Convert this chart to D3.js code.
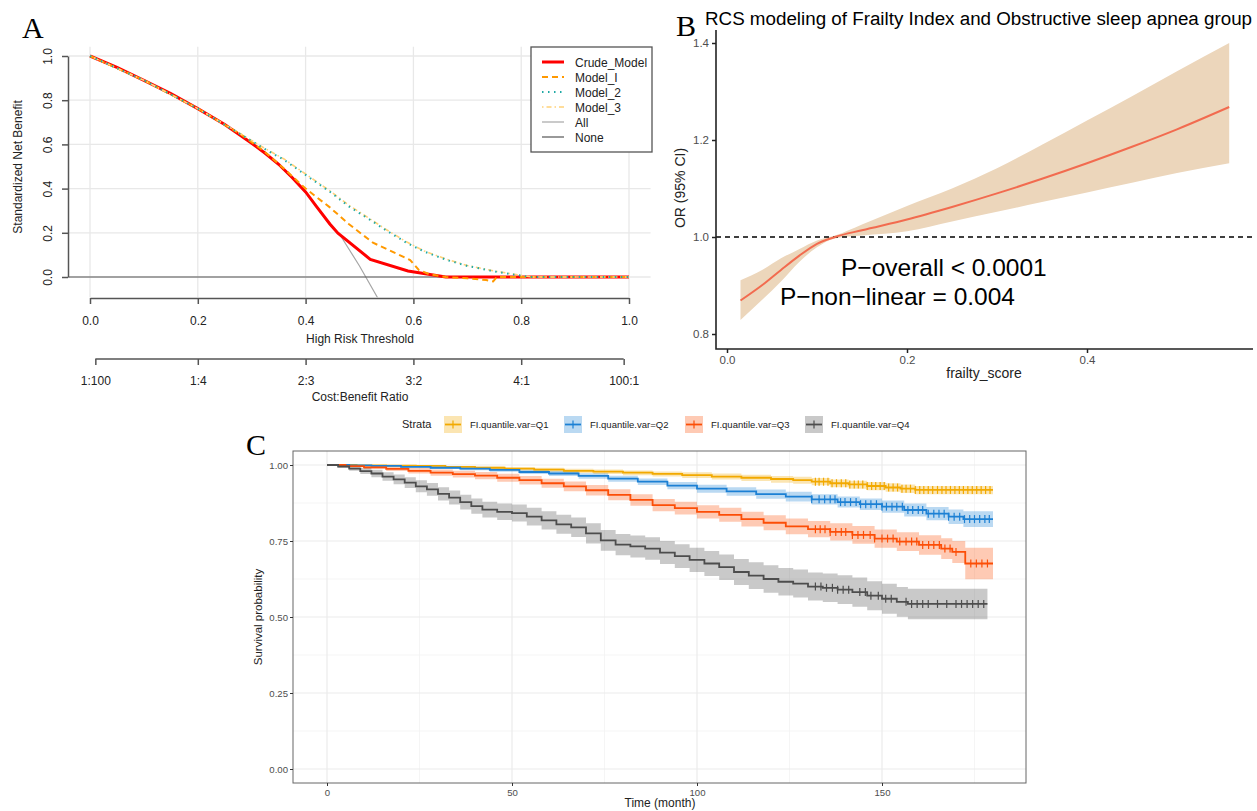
<!DOCTYPE html>
<html>
<head>
<meta charset="utf-8">
<script src="https://cdn.jsdelivr.net/npm/d3@7"></script>
<style>
body { margin: 0; background: #fff; }
svg { display: block; font-family: "Liberation Sans", Arial, sans-serif; }
</style>
</head>
<body>
<svg id="fig" width="1257" height="811"></svg>
<script>
// ---------------- data: panel A (decision curves) ----------------
const thresholdTicks = [0, 0.2, 0.4, 0.6, 0.8, 1.0];
const nbTicks = [0, 0.2, 0.4, 0.6, 0.8, 1.0];
const costBenefitThr = [0.0099, 0.2, 0.4, 0.6, 0.8, 0.9901];
const costBenefitLabels = ["1:100", "1:4", "2:3", "3:2", "4:1", "100:1"];

const crudeThr = [0, 0.05, 0.1, 0.15, 0.2, 0.25, 0.3, 0.325, 0.35, 0.375, 0.4, 0.42, 0.445, 0.46, 0.52, 0.59, 0.66, 1.0];
const crudeNB  = [1, 0.948, 0.89, 0.83, 0.762, 0.69, 0.605, 0.56, 0.51, 0.45, 0.385, 0.32, 0.24, 0.198, 0.08, 0.027, 0, 0];
const model1Thr = [0, 0.1, 0.2, 0.28, 0.32, 0.36, 0.4, 0.445, 0.48, 0.525, 0.594, 0.61, 0.63, 0.66, 0.7, 0.735, 0.748, 0.755, 1.0];
const model1NB  = [1, 0.89, 0.762, 0.645, 0.575, 0.49, 0.40, 0.315, 0.24, 0.155, 0.077, 0.032, 0.012, 0, -0.006, -0.014, -0.02, 0, 0];
const model2Thr = [0, 0.1, 0.2, 0.28, 0.32, 0.36, 0.4, 0.445, 0.48, 0.52, 0.55, 0.588, 0.62, 0.662, 0.7, 0.755, 0.816, 1.0];
const model2NB  = [1, 0.89, 0.762, 0.645, 0.585, 0.53, 0.462, 0.386, 0.32, 0.258, 0.21, 0.154, 0.115, 0.077, 0.05, 0.023, 0, 0];
const model3Thr = [0, 0.1, 0.2, 0.28, 0.32, 0.36, 0.4, 0.445, 0.48, 0.52, 0.55, 0.588, 0.62, 0.662, 0.7, 0.755, 0.82, 1.0];
const model3NB  = [1, 0.89, 0.762, 0.647, 0.588, 0.534, 0.466, 0.39, 0.325, 0.262, 0.214, 0.158, 0.118, 0.08, 0.052, 0.025, 0, 0];
const allThr = [0, 0.05, 0.1, 0.15, 0.2, 0.25, 0.3, 0.325, 0.35, 0.375, 0.4, 0.42, 0.445, 0.464, 0.5, 0.535];
const allNB  = [1, 0.948, 0.89, 0.83, 0.762, 0.69, 0.603, 0.557, 0.507, 0.447, 0.382, 0.317, 0.236, 0.19, 0.05, -0.1];
const noneThr = [-0.04, 1.0];
const noneNB  = [0, 0];

// ---------------- data: panel B (RCS) ----------------
const rcsX     = [0.015, 0.04, 0.06, 0.08, 0.10, 0.12, 0.15, 0.2, 0.25, 0.3, 0.35, 0.4, 0.45, 0.5, 0.558];
const rcsOR    = [0.869, 0.902, 0.932, 0.961, 0.986, 1.0, 1.014, 1.036, 1.062, 1.09, 1.12, 1.152, 1.186, 1.222, 1.268];
const rcsLower = [0.829, 0.872, 0.908, 0.948, 0.979, 0.997, 1.003, 1.012, 1.032, 1.052, 1.072, 1.092, 1.112, 1.132, 1.152];
const rcsUpper = [0.911, 0.933, 0.956, 0.975, 0.993, 1.003, 1.026, 1.064, 1.1, 1.142, 1.19, 1.24, 1.29, 1.342, 1.40];
const rcsXTicks = [0, 0.2, 0.4];
const rcsYTicks = [0.8, 1.0, 1.2, 1.4];

// ---------------- data: panel C (Kaplan-Meier) ----------------
const strataNames = ["FI.quantile.var=Q1", "FI.quantile.var=Q2", "FI.quantile.var=Q3", "FI.quantile.var=Q4"];
const strataColors = ["#F2A900", "#1C80D4", "#FC4E07", "#4D4D4D"];
const strataEnd = [180, 180, 180, 178.5];

const q1Time = [0, 8, 16, 24, 32, 40, 48, 56, 64, 72, 80, 88, 96, 104, 112, 120, 126, 131, 136, 141, 146, 151, 155, 159];
const q1Surv = [1, 0.999, 0.998, 0.997, 0.994, 0.991, 0.988, 0.985, 0.981, 0.978, 0.975, 0.971, 0.967, 0.962, 0.958, 0.954, 0.950, 0.945, 0.940, 0.936, 0.931, 0.926, 0.922, 0.918];
const q1Low  = [1, 0.998, 0.996, 0.994, 0.990, 0.986, 0.982, 0.978, 0.974, 0.970, 0.966, 0.962, 0.957, 0.952, 0.947, 0.942, 0.938, 0.933, 0.927, 0.922, 0.917, 0.912, 0.908, 0.904];
const q1High = [1, 1, 1, 0.999, 0.997, 0.995, 0.993, 0.991, 0.988, 0.985, 0.982, 0.979, 0.976, 0.972, 0.968, 0.964, 0.961, 0.957, 0.952, 0.948, 0.944, 0.940, 0.936, 0.931];

const q2Time = [0, 6, 12, 20, 28, 36, 44, 52, 60, 68, 76, 84, 92, 100, 108, 116, 124, 131, 138, 144, 150, 156, 162, 168, 172];
const q2Surv = [1, 0.999, 0.997, 0.994, 0.991, 0.988, 0.984, 0.977, 0.972, 0.964, 0.955, 0.945, 0.932, 0.922, 0.913, 0.904, 0.896, 0.887, 0.878, 0.871, 0.863, 0.852, 0.840, 0.830, 0.822];
const q2Low  = [1, 0.998, 0.995, 0.991, 0.987, 0.983, 0.978, 0.970, 0.964, 0.955, 0.945, 0.934, 0.920, 0.909, 0.899, 0.889, 0.880, 0.870, 0.860, 0.852, 0.843, 0.831, 0.818, 0.806, 0.796];
const q2High = [1, 1, 0.999, 0.997, 0.995, 0.993, 0.990, 0.984, 0.980, 0.973, 0.965, 0.956, 0.944, 0.935, 0.927, 0.919, 0.912, 0.904, 0.896, 0.890, 0.883, 0.873, 0.862, 0.854, 0.848];

const q3Time = [0, 5, 10, 16, 22, 28, 34, 40, 46, 52, 58, 64, 70, 76, 82, 88, 94, 100, 106, 112, 118, 124, 130, 136, 142, 148, 154, 160, 166, 169, 172.5];
const q3Surv = [1, 0.996, 0.992, 0.987, 0.981, 0.975, 0.970, 0.965, 0.958, 0.950, 0.940, 0.930, 0.917, 0.902, 0.885, 0.868, 0.858, 0.846, 0.836, 0.822, 0.810, 0.798, 0.789, 0.780, 0.770, 0.758, 0.748, 0.737, 0.725, 0.714, 0.676];
const q3Low  = [1, 0.993, 0.987, 0.980, 0.972, 0.965, 0.959, 0.953, 0.945, 0.936, 0.925, 0.914, 0.900, 0.884, 0.866, 0.848, 0.837, 0.824, 0.813, 0.798, 0.785, 0.772, 0.762, 0.752, 0.741, 0.728, 0.717, 0.705, 0.691, 0.678, 0.624];
const q3High = [1, 0.999, 0.997, 0.994, 0.990, 0.985, 0.981, 0.977, 0.971, 0.964, 0.955, 0.946, 0.934, 0.920, 0.904, 0.888, 0.879, 0.868, 0.859, 0.846, 0.835, 0.824, 0.816, 0.808, 0.799, 0.788, 0.779, 0.769, 0.759, 0.750, 0.728];

const q4Time = [0, 3, 6, 9, 12, 15, 18, 21, 24, 27, 30, 33, 36, 39, 42, 46, 50, 54, 58, 62, 66, 70, 74, 78, 82, 86, 90, 94, 98, 102, 106, 110, 114, 118, 122, 126, 130, 134, 138, 142, 146, 150, 154, 157];
const q4Surv = [1, 0.995, 0.988, 0.98, 0.972, 0.962, 0.953, 0.942, 0.93, 0.92, 0.905, 0.893, 0.878, 0.865, 0.853, 0.846, 0.842, 0.83, 0.818, 0.805, 0.795, 0.775, 0.752, 0.738, 0.732, 0.725, 0.712, 0.7, 0.688, 0.676, 0.664, 0.648, 0.636, 0.625, 0.616, 0.61, 0.6, 0.596, 0.59, 0.582, 0.57, 0.56, 0.55, 0.543];
const q4Low  = [1, 0.991, 0.981, 0.97, 0.96, 0.948, 0.937, 0.924, 0.91, 0.899, 0.883, 0.87, 0.854, 0.84, 0.827, 0.819, 0.814, 0.801, 0.788, 0.774, 0.763, 0.742, 0.718, 0.703, 0.696, 0.688, 0.674, 0.661, 0.648, 0.635, 0.622, 0.605, 0.592, 0.58, 0.571, 0.564, 0.554, 0.549, 0.543, 0.534, 0.522, 0.511, 0.501, 0.493];
const q4High = [1, 0.999, 0.995, 0.99, 0.984, 0.976, 0.969, 0.96, 0.95, 0.941, 0.927, 0.916, 0.902, 0.89, 0.879, 0.873, 0.87, 0.859, 0.848, 0.836, 0.827, 0.808, 0.786, 0.773, 0.768, 0.762, 0.75, 0.739, 0.728, 0.717, 0.706, 0.691, 0.68, 0.67, 0.661, 0.656, 0.646, 0.643, 0.637, 0.63, 0.618, 0.609, 0.599, 0.593];

const q1Censor = [132, 133, 134.2, 135.4, 136.5, 137.7, 139, 140.2, 141.3, 142.5, 143.6, 144.8, 146, 147.2, 148.3, 149.5, 150.6, 151.8, 153, 154.2, 155.4, 156.5, 157.7, 159, 160.2, 161.3, 162.5, 163.7, 165, 166.2, 167.3, 168.5, 169.7, 170.9, 172, 173.2, 174.4, 175.6, 176.8, 178, 179.2];
const q2Censor = [131, 133, 134.5, 136, 137.3, 138.8, 140, 141.5, 143, 144.2, 145.6, 147, 148.5, 150, 151.2, 152.7, 154, 155.5, 157, 158.3, 159.8, 161, 162.5, 164, 165.4, 166.8, 168, 169.5, 171, 172.3, 173.7, 175, 176.4, 177.8, 179];
const q3Censor = [132, 133.3, 134.6, 136, 137.5, 139, 140.2, 142, 143.5, 145, 146.8, 148, 150, 151.5, 153, 154.8, 156.5, 158, 159.4, 161, 162.6, 164, 165.5, 167, 168.4, 170, 174, 175.5, 177, 178.5];
const q4Censor = [132, 133.5, 135, 136.6, 138, 139.5, 141, 144, 145.5, 147, 149, 151, 152.5, 156.5, 158, 159.5, 161, 162.5, 165, 167.5, 170, 171.5, 173, 174.5, 176, 177.5];

const kmXTicks = [0, 50, 100, 150];
const kmXMinor = [25, 75, 125, 175];
const kmYTicks = [0, 0.25, 0.5, 0.75, 1];
const kmYMinor = [0.125, 0.375, 0.625, 0.875];

const svg = d3.select("#fig");
const defs = svg.append("defs");
const sans = "'Liberation Sans', Arial, sans-serif";
const serif = "'Liberation Serif', 'DejaVu Serif', serif";

// ======================= Panel A =======================
const xA = d3.scaleLinear().domain([0, 1]).range([90, 629]);
const yA = d3.scaleLinear().domain([0, 1]).range([277, 56]);
const aLeft = xA(-0.04), aRight = xA(1.04), aTop = yA(1.042), aBottom = yA(-0.092);
const gA = svg.append("g");

defs.append("clipPath").attr("id", "clipA").append("rect")
    .attr("x", aLeft).attr("y", aTop)
    .attr("width", aRight - aLeft).attr("height", aBottom - aTop);

gA.selectAll(".vgrid").data(thresholdTicks).enter().append("line")
    .attr("x1", d => xA(d)).attr("x2", d => xA(d))
    .attr("y1", aTop).attr("y2", aBottom)
    .attr("stroke", "#e8e8e8").attr("stroke-width", 1.3);
gA.selectAll(".hgrid").data(nbTicks).enter().append("line")
    .attr("x1", aLeft).attr("x2", aRight)
    .attr("y1", d => yA(d)).attr("y2", d => yA(d))
    .attr("stroke", "#e8e8e8").attr("stroke-width", 1.3);

const lineA = d3.line().x(d => xA(d[0])).y(d => yA(d[1]));
const dcaSeries = [
    { name: "All",         thr: allThr,    nb: allNB,    color: "#a6a6a6", width: 1.2, dash: null },
    { name: "None",        thr: noneThr,   nb: noneNB,   color: "#555555", width: 1.2, dash: null },
    { name: "Crude_Model", thr: crudeThr,  nb: crudeNB,  color: "#ff0000", width: 3,   dash: null },
    { name: "Model_I",     thr: model1Thr, nb: model1NB, color: "#ff9900", width: 2,   dash: "6,4" },
    { name: "Model_3",     thr: model3Thr, nb: model3NB, color: "#ffd27a", width: 1.6, dash: "1.5,3,5,3" },
    { name: "Model_2",     thr: model2Thr, nb: model2NB, color: "#1fa9a5", width: 2,   dash: "1.5,4.5" }
];
gA.append("g").attr("clip-path", "url(#clipA)")
    .selectAll("path").data(dcaSeries).enter().append("path")
    .attr("d", d => lineA(d3.zip(d.thr, d.nb)))
    .attr("fill", "none")
    .attr("stroke", d => d.color)
    .attr("stroke-width", d => d.width)
    .attr("stroke-dasharray", d => d.dash);

// axes
function styleAxis(g, color, size, textColor) {
    g.attr("font-family", sans).attr("font-size", size);
    g.selectAll(".domain").attr("stroke", color).attr("stroke-width", 1.5);
    g.selectAll(".tick line").attr("stroke", color).attr("stroke-width", 1.5);
    g.selectAll(".tick text").attr("fill", textColor);
}
const axA1 = gA.append("g").attr("transform", "translate(0,298)")
    .call(d3.axisBottom(xA).tickValues(thresholdTicks).tickFormat(d3.format(".1f"))
        .tickSize(6).tickSizeOuter(0).tickPadding(12));
styleAxis(axA1, "#555", 12, "#222");

const axA2 = gA.append("g").attr("transform", "translate(0,359)")
    .call(d3.axisBottom(xA).tickValues(costBenefitThr).tickFormat((d, i) => costBenefitLabels[i])
        .tickSize(6).tickSizeOuter(0).tickPadding(11));
axA2.select(".domain").remove();
axA2.append("line")
    .attr("x1", xA(costBenefitThr[0])).attr("x2", xA(costBenefitThr[costBenefitThr.length - 1]))
    .attr("stroke", "#555").attr("stroke-width", 1.5);
styleAxis(axA2, "#555", 12, "#222");

const axAy = gA.append("g").attr("transform", "translate(68,0)")
    .call(d3.axisLeft(yA).tickValues(nbTicks).tickFormat(d3.format(".1f")).tickSize(6).tickSizeOuter(0));
styleAxis(axAy, "#555", 12, "#222");
axAy.selectAll(".tick text")
    .attr("transform", "rotate(-90)")
    .attr("x", 0).attr("y", -16).attr("dy", 0)
    .attr("text-anchor", "middle");

gA.append("text").attr("x", 360).attr("y", 343).attr("text-anchor", "middle")
    .attr("font-size", 12).attr("fill", "#222").text("High Risk Threshold");
gA.append("text").attr("x", 360).attr("y", 401).attr("text-anchor", "middle")
    .attr("font-size", 12).attr("fill", "#222").text("Cost:Benefit Ratio");
gA.append("text").attr("transform", "translate(22,167) rotate(-90)").attr("text-anchor", "middle")
    .attr("font-size", 12).attr("fill", "#222").text("Standardized Net Benefit");

// legend
const legA = gA.append("g").attr("transform", "translate(531,47)");
legA.append("rect").attr("width", 121).attr("height", 105)
    .attr("fill", "#fff").attr("stroke", "#555").attr("stroke-width", 1.3);
const legOrder = ["Crude_Model", "Model_I", "Model_2", "Model_3", "All", "None"];
legOrder.forEach((name, i) => {
    const s = dcaSeries.find(d => d.name === name);
    const yy = 15 + i * 15;
    legA.append("line").attr("x1", 11).attr("x2", 33).attr("y1", yy).attr("y2", yy)
        .attr("stroke", s.color).attr("stroke-width", s.width).attr("stroke-dasharray", s.dash);
    legA.append("text").attr("x", 44).attr("y", yy + 4.5).attr("font-size", 12).attr("fill", "#222").text(name);
});

svg.append("text").attr("x", 22).attr("y", 38).attr("font-family", serif).attr("font-size", 30).text("A");

// ======================= Panel B =======================
const xB = d3.scaleLinear().domain([0, 0.4]).range([727, 1087]);
const yB = d3.scaleLinear().domain([0.8, 1.4]).range([334, 43]);
const gB = svg.append("g");
const bLeft = 716, bRight = 1253, bTop = 30, bBottom = 349;

const rcsRows = rcsX.map((x, i) => ({ x: x, or: rcsOR[i], lo: rcsLower[i], hi: rcsUpper[i] }));
gB.append("path").datum(rcsRows)
    .attr("d", d3.area().curve(d3.curveMonotoneX).x(d => xB(d.x)).y0(d => yB(d.lo)).y1(d => yB(d.hi)))
    .attr("fill", "#ecd6bb");
gB.append("line").attr("x1", bLeft).attr("x2", bRight).attr("y1", yB(1)).attr("y2", yB(1))
    .attr("stroke", "#000").attr("stroke-width", 1.5).attr("stroke-dasharray", "5,4");
gB.append("path").datum(rcsRows)
    .attr("d", d3.line().curve(d3.curveMonotoneX).x(d => xB(d.x)).y(d => yB(d.or)))
    .attr("fill", "none").attr("stroke", "#f26b4f").attr("stroke-width", 2);

const axBy = gB.append("g").attr("transform", `translate(${bLeft},0)`)
    .call(d3.axisLeft(yB).tickValues(rcsYTicks).tickFormat(d3.format(".1f")).tickSize(4).tickPadding(3));
axBy.select(".domain").remove();
styleAxis(axBy, "#222", 11.5, "#4d4d4d");
const axBx = gB.append("g").attr("transform", `translate(0,${bBottom})`)
    .call(d3.axisBottom(xB).tickValues(rcsXTicks).tickFormat(d3.format(".1f")).tickSize(4).tickPadding(3));
axBx.select(".domain").remove();
styleAxis(axBx, "#222", 11.5, "#4d4d4d");
gB.append("path").attr("d", `M${bLeft},${bTop}V${bBottom}H${bRight}`)
    .attr("fill", "none").attr("stroke", "#222").attr("stroke-width", 1.6);

gB.append("text").attr("x", 984).attr("y", 378).attr("text-anchor", "middle")
    .attr("font-size", 14).attr("fill", "#222").text("frailty_score");
gB.append("text").attr("transform", "translate(685,188) rotate(-90)").attr("text-anchor", "middle")
    .attr("font-size", 14).attr("fill", "#222").text("OR (95% CI)");
gB.append("text").attr("x", 841).attr("y", 276).attr("font-size", 24.5).attr("fill", "#000")
    .text("P\u2212overall < 0.0001");
gB.append("text").attr("x", 780).attr("y", 305).attr("font-size", 24.5).attr("fill", "#000")
    .text("P\u2212non\u2212linear = 0.004");
gB.append("text").attr("x", 705).attr("y", 25).attr("font-size", 18.8).attr("fill", "#000")
    .text("RCS modeling of Frailty Index and Obstructive sleep apnea group");
svg.append("text").attr("x", 676).attr("y", 36).attr("font-family", serif).attr("font-size", 30).text("B");

// ======================= Panel C =======================
const xC = d3.scaleLinear().domain([0, 150]).range([327, 882]);
const yC = d3.scaleLinear().domain([0, 1]).range([769, 465]);
const cLeft = 293, cRight = 1026, cTop = 451, cBottom = 783;
const gC = svg.append("g");

gC.append("rect").attr("x", cLeft).attr("y", cTop).attr("width", cRight - cLeft).attr("height", cBottom - cTop)
    .attr("fill", "#fff");
gC.selectAll(".xminor").data(kmXMinor).enter().append("line")
    .attr("x1", d => xC(d)).attr("x2", d => xC(d)).attr("y1", cTop).attr("y2", cBottom)
    .attr("stroke", "#f2f2f2").attr("stroke-width", 0.8);
gC.selectAll(".yminor").data(kmYMinor).enter().append("line")
    .attr("x1", cLeft).attr("x2", cRight).attr("y1", d => yC(d)).attr("y2", d => yC(d))
    .attr("stroke", "#f2f2f2").attr("stroke-width", 0.8);
gC.selectAll(".xmajor").data(kmXTicks).enter().append("line")
    .attr("x1", d => xC(d)).attr("x2", d => xC(d)).attr("y1", cTop).attr("y2", cBottom)
    .attr("stroke", "#ebebeb").attr("stroke-width", 1.2);
gC.selectAll(".ymajor").data(kmYTicks).enter().append("line")
    .attr("x1", cLeft).attr("x2", cRight).attr("y1", d => yC(d)).attr("y2", d => yC(d))
    .attr("stroke", "#ebebeb").attr("stroke-width", 1.2);

const strata = [
    { time: q1Time, surv: q1Surv, lo: q1Low, hi: q1High, censor: q1Censor },
    { time: q2Time, surv: q2Surv, lo: q2Low, hi: q2High, censor: q2Censor },
    { time: q3Time, surv: q3Surv, lo: q3Low, hi: q3High, censor: q3Censor },
    { time: q4Time, surv: q4Surv, lo: q4Low, hi: q4High, censor: q4Censor }
];
strata.forEach((s, i) => {
    s.rows = s.time.map((t, j) => ({ t: t, s: s.surv[j], lo: s.lo[j], hi: s.hi[j] }));
    const last = s.rows[s.rows.length - 1];
    s.rows.push({ t: strataEnd[i], s: last.s, lo: last.lo, hi: last.hi });
});

const bandC = d3.area().curve(d3.curveStepAfter).x(d => xC(d.t)).y0(d => yC(d.lo)).y1(d => yC(d.hi));
const lineC = d3.line().curve(d3.curveStepAfter).x(d => xC(d.t)).y(d => yC(d.s));
strata.forEach((s, i) => {
    gC.append("path").datum(s.rows).attr("d", bandC)
        .attr("fill", strataColors[i]).attr("fill-opacity", 0.3);
});
// survival value at a censor time (step lookup)
function survAt(s, t) {
    const j = d3.bisectRight(s.time, t) - 1;
    return s.surv[Math.max(0, j)];
}
strata.forEach((s, i) => {
    gC.append("path").datum(s.rows).attr("d", lineC)
        .attr("fill", "none").attr("stroke", strataColors[i]).attr("stroke-width", 1.8);
    gC.append("g").selectAll("line").data(s.censor).enter().append("line")
        .attr("x1", d => xC(d)).attr("x2", d => xC(d))
        .attr("y1", d => yC(survAt(s, d)) - 4).attr("y2", d => yC(survAt(s, d)) + 4)
        .attr("stroke", strataColors[i]).attr("stroke-width", 1.2);
});

gC.append("rect").attr("x", cLeft).attr("y", cTop).attr("width", cRight - cLeft).attr("height", cBottom - cTop)
    .attr("fill", "none").attr("stroke", "#666").attr("stroke-width", 1);

const axCy = gC.append("g").attr("transform", `translate(${cLeft},0)`)
    .call(d3.axisLeft(yC).tickValues(kmYTicks).tickFormat(d3.format(".2f")).tickSize(3).tickPadding(2));
axCy.select(".domain").remove();
styleAxis(axCy, "#333", 9.6, "#4d4d4d");
axCy.selectAll(".tick line").attr("stroke-width", 1);
const axCx = gC.append("g").attr("transform", `translate(0,${cBottom})`)
    .call(d3.axisBottom(xC).tickValues(kmXTicks).tickSize(3).tickPadding(3));
axCx.select(".domain").remove();
styleAxis(axCx, "#333", 9.6, "#4d4d4d");
axCx.selectAll(".tick line").attr("stroke-width", 1);

gC.append("text").attr("x", 660).attr("y", 807).attr("text-anchor", "middle")
    .attr("font-size", 12).attr("fill", "#222").text("Time (month)");
gC.append("text").attr("transform", "translate(262,617) rotate(-90)").attr("text-anchor", "middle")
    .attr("font-size", 11.5).attr("fill", "#222").text("Survival probability");

// legend
const legC = gC.append("g");
legC.append("text").attr("x", 402).attr("y", 428).attr("font-size", 11).attr("fill", "#222").text("Strata");
const keyX = [444, 564, 685, 805];
strataNames.forEach((name, i) => {
    const k = legC.append("g").attr("transform", `translate(${keyX[i]},416)`);
    k.append("rect").attr("width", 18).attr("height", 17)
        .attr("fill", strataColors[i]).attr("fill-opacity", 0.3);
    k.append("line").attr("x1", 1).attr("x2", 17).attr("y1", 8.5).attr("y2", 8.5)
        .attr("stroke", strataColors[i]).attr("stroke-width", 1.8);
    k.append("line").attr("x1", 9).attr("x2", 9).attr("y1", 4.5).attr("y2", 12.5)
        .attr("stroke", strataColors[i]).attr("stroke-width", 1.2);
    legC.append("text").attr("x", keyX[i] + 26).attr("y", 428).attr("font-size", 9.5).attr("fill", "#222").text(name);
});

svg.append("text").attr("x", 246).attr("y", 455).attr("font-family", serif).attr("font-size", 30).text("C");
</script>
</body>
</html>
